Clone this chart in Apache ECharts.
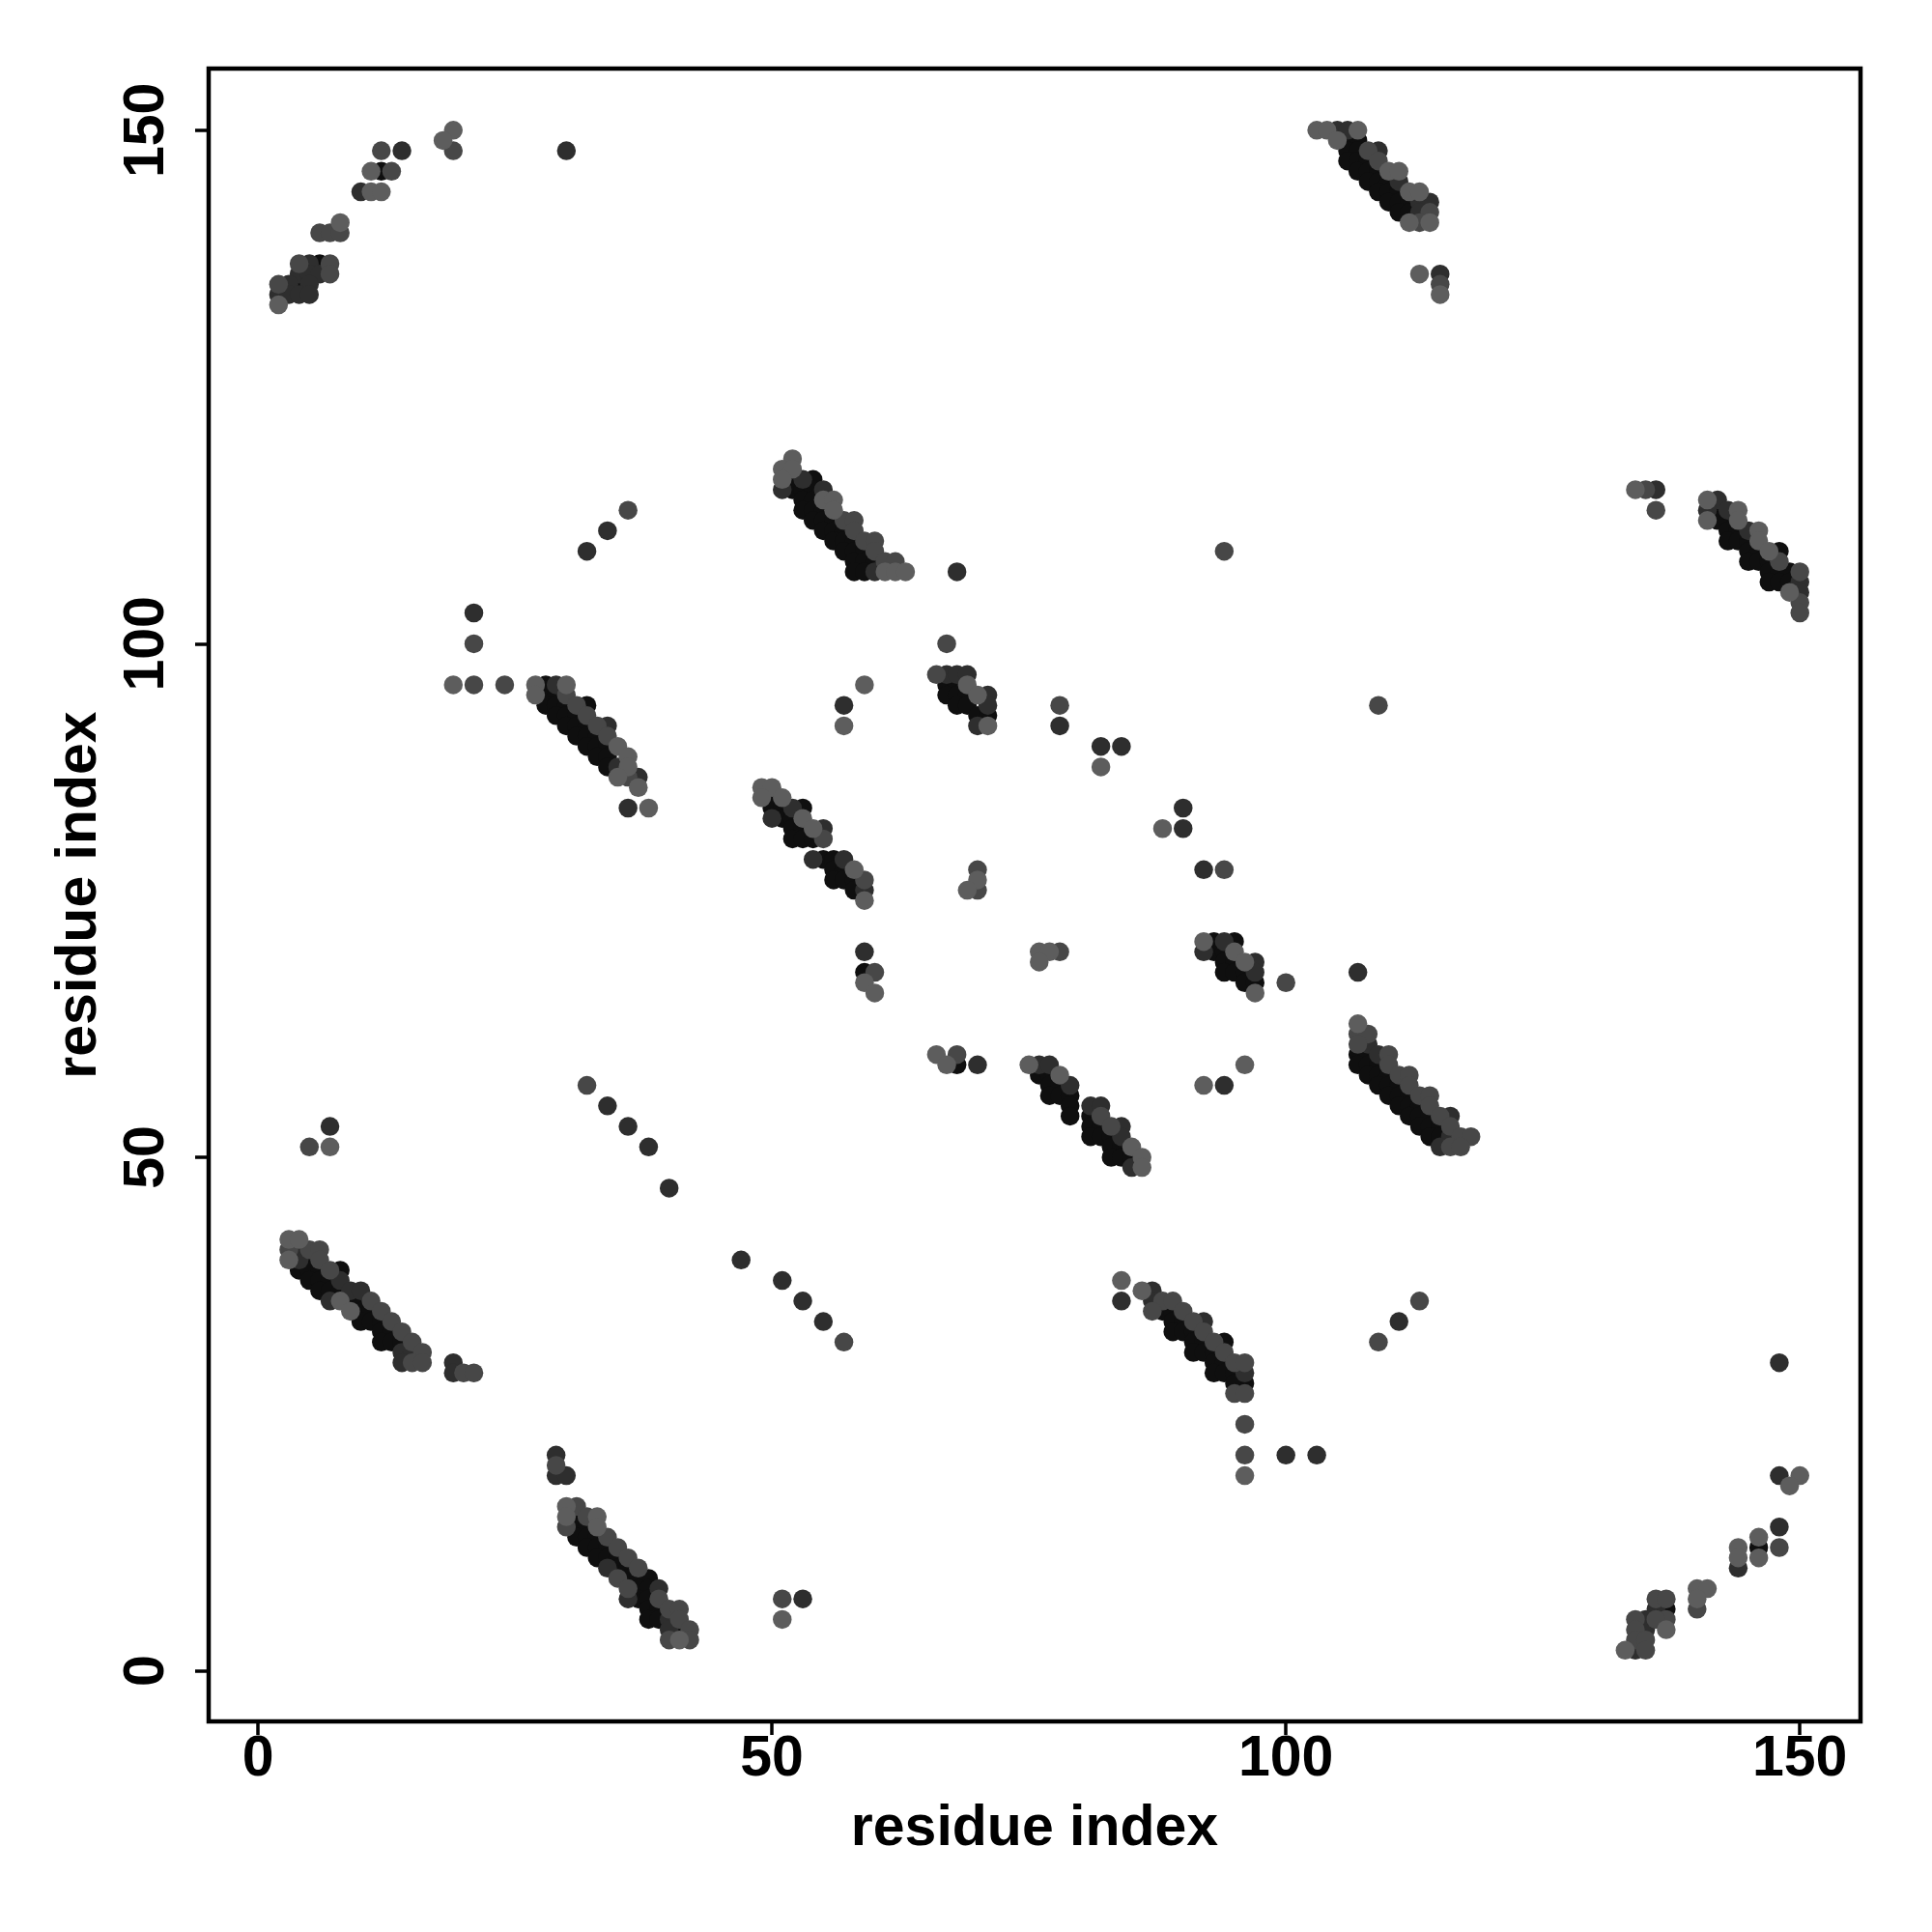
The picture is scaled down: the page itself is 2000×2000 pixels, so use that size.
<!DOCTYPE html>
<html><head><meta charset="utf-8">
<script src="https://cdn.jsdelivr.net/npm/echarts@6/dist/echarts.min.js"></script>
<style>html,body{margin:0;padding:0;background:#fff}#c{width:2000px;height:2000px}</style>
</head><body><div id="c"></div>
<script>
const tickValues = [0, 50, 100, 150];
const axisTitle = 'residue index';

// darkest points
const blackPts = [
[12,146],[6,137],[4,135],
[106,149],[107,149],[106,148],[107,148],[106,147],[107,147],[108,147],[107,146],[108,146],[109,146],[108,145],[109,145],[110,145],[109,144],[110,144],[111,144],[110,143],[111,143],[112,143],[111,142],[112,142],
[52,116],[54,116],[52,115],[53,115],[54,115],[53,114],[54,114],[53,113],[54,113],[55,113],[54,112],[55,112],[56,112],[55,111],[56,111],[57,111],[56,110],[57,110],[58,110],[57,109],[58,109],[59,109],[58,108],[59,108],[60,108],[58,107],[59,107],
[142,113],[142,112],[143,112],[143,111],[144,111],[143,110],[144,110],[145,110],[145,109],[146,109],[148,109],[145,108],[146,108],[147,108],[147,107],[148,107],[149,107],[147,106],[148,106],[149,106],
[28,96],[28,95],[29,95],[28,94],[29,94],[30,94],[32,94],[29,93],[30,93],[31,93],[30,92],[31,92],[32,92],[31,91],[32,91],[33,91],[32,90],[33,90],[34,90],[33,89],[34,89],[34,88],
[50,85],[50,84],[51,84],[53,84],[51,83],[52,83],[52,82],[53,82],[52,81],[53,81],[54,81],[55,79],[56,79],[56,78],[57,78],[56,77],[57,77],[58,77],[58,76],
[67,96],[68,96],[67,95],[68,95],[69,95],[68,94],[69,94],[70,93],[71,93],
[93,71],[95,71],[93,70],[94,70],[94,69],[95,69],[94,68],[95,68],[96,68],[96,67],[97,67],
[76,58],[77,58],[77,57],[78,57],[77,56],[78,56],[79,56],[79,55],[79,54],[81,54],[81,53],[82,53],[81,52],[82,52],[83,52],[83,51],[84,51],[83,50],[84,50],[85,50],
[107,60],[108,60],[107,59],[108,59],[109,59],[108,58],[109,58],[110,58],[109,57],[110,57],[111,57],[110,56],[111,56],[112,56],[111,55],[112,55],[113,55],[112,54],[113,54],[114,54],[113,53],[114,53],[115,53],[114,52],[115,52],
[5,40],[4,39],[5,39],[6,39],[8,39],[5,38],[6,38],[7,38],[6,37],[7,37],[8,37],[9,36],[10,36],[10,35],[11,35],[10,34],[11,34],[12,34],[12,33],[13,33],[12,32],[13,32],[14,32],
[88,35],[89,35],[89,34],[90,34],[89,33],[90,33],[91,33],[91,32],[92,32],[94,32],[91,31],[92,31],[93,31],[93,30],[94,30],[93,29],[94,29],[95,29],[95,28],[96,28],
[31,15],[31,14],[32,14],[31,13],[32,13],[33,13],[32,12],[33,12],[34,12],[33,11],[34,11],[35,11],[35,10],[36,10],[36,9],[37,9],[38,9],[37,8],[38,8],[37,7],[38,7],[38,6],[39,6],[38,5],[39,5],[41,4],
[68,59],[59,68],[137,6],[146,12]
];

const darkPts = [
[14,148],[30,148],[10,144],[5,137],[4,136],[5,136],[6,136],[3,135],[5,135],[2,134],[3,134],[4,134],[5,134],
[105,150],[106,150],[109,148],[111,145],[113,143],[114,143],[113,142],[115,136],
[53,116],[51,115],[55,115],[60,107],[68,107],
[136,115],[142,114],[141,113],[143,113],[145,111],[150,106],[150,105],
[21,103],[29,96],[34,92],[35,88],[37,87],[36,84],
[52,84],[50,83],[55,82],[54,79],[57,79],[59,76],
[67,97],[68,97],[69,97],[71,95],[71,94],[70,92],
[94,71],[92,70],[97,69],[97,68],
[76,59],[77,59],[79,57],[81,55],[82,55],[84,53],[84,52],[85,49],
[108,61],[109,60],[116,54],[116,52],[115,51],
[4,41],[4,40],[8,38],[9,37],[10,37],[7,36],[14,31],[15,31],[14,30],[19,30],[19,29],
[87,37],[84,36],[87,36],[92,34],[96,29],
[29,21],[29,19],[30,19],[34,10],[39,8],[36,7],[40,5],[40,4],
[148,19],[148,14],[144,10],[136,6],[135,5],[135,4],[134,2],[148,30],
[57,94],[59,70],[32,109],[34,111],[78,92],[82,90],[84,90],[90,84],[90,82],[92,78],[107,68],[70,59],[34,55],[36,53],[38,51],[40,47],[7,53],[47,40],[51,38],[53,36],[55,34],[100,21],[103,21],[111,34],[53,7],[94,57]
];

const midPts = [
[12,148],[19,148],[13,146],[6,140],[7,140],[8,140],[4,137],[7,137],[7,136],[2,135],
[108,148],[109,147],[114,142],[113,141],[115,135],
[57,112],[58,112],[58,111],[59,110],[60,110],[60,109],[61,108],[62,108],
[135,115],[136,113],[148,108],[150,107],[150,104],[150,103],
[21,100],[21,96],[24,96],[30,95],[31,94],[32,93],[33,92],[34,91],[36,87],
[55,81],[59,77],
[66,97],
[78,70],[82,54],[83,53],
[107,62],[108,62],[107,61],[110,60],[110,59],[111,58],[112,58],[112,57],[113,56],[114,56],[114,55],[115,54],[116,53],[117,52],[118,52],[116,51],[117,51],
[3,41],[5,41],[6,41],[6,40],[7,39],[11,36],[12,35],[13,34],[14,33],[15,32],[16,31],[15,30],[16,30],[20,29],[21,29],
[88,36],[89,36],[87,35],[90,35],[91,34],[92,33],[93,32],[94,31],[95,30],[96,30],[95,27],[96,27],[96,24],[96,21],
[29,20],[31,16],[32,15],[30,14],[34,13],[35,12],[36,11],[37,10],[35,9],[36,8],[39,7],[40,6],[41,6],[41,5],[42,4],[40,3],[42,3],
[148,12],[140,6],[136,7],[137,7],[137,5],[136,5],[134,5],[134,4],[134,3],[135,3],[135,2],
[67,100],[70,78],[70,76],[60,68],[94,109],[36,113],[109,94],[78,94],[94,78],[100,67],[68,60],[32,57],[5,51],[57,32],[109,32],[113,36],[51,7]
];

const lightPts = [
[19,150],[18,149],[11,146],[11,144],[12,144],[8,141],[2,133],
[103,150],[104,150],[107,150],[105,149],[110,146],[111,146],[112,144],[113,144],[112,141],[114,141],[113,136],[115,134],
[52,118],[51,117],[52,117],[51,116],[55,114],[56,114],[56,113],[61,107],[62,107],[63,107],
[134,115],[141,114],[144,113],[141,112],[144,112],[146,111],[146,110],[147,109],[149,105],
[19,96],[27,96],[30,96],[27,95],[35,90],[36,89],[36,88],[35,87],[37,86],[38,84],
[49,86],[50,86],[49,85],[51,85],[53,83],[54,82],[58,78],[59,75],
[69,96],[70,95],[71,92],
[92,71],[95,70],[96,69],[97,66],
[75,59],[78,58],[85,51],[86,50],[86,49],[76,70],[77,70],[76,69],
[107,63],
[3,42],[4,42],[3,40],[8,36],[9,35],
[84,38],[86,37],[96,19],
[30,16],[30,15],[33,15],[33,14],[41,3],
[150,19],[149,18],[146,13],[146,11],[144,12],[144,11],[140,8],[141,8],[140,7],[137,4],[133,2],
[59,96],[57,92],[70,77],[69,76],[59,67],[60,66],[96,59],[92,57],[82,88],[88,82],[66,60],[67,59],[7,51],[51,5]
];

const groups = [
  {name: 'black', data: blackPts, color: '#0f0f0f'},
  {name: 'dark', data: darkPts, color: '#2e2e2e'},
  {name: 'mid', data: midPts, color: '#474747'},
  {name: 'light', data: lightPts, color: '#5d5d5d'}
];

const font = '"Liberation Sans", Arial, Helvetica, sans-serif';
const labelStyle = {fontFamily: font, fontWeight: 'bold', fontSize: 59, color: '#000'};

const chart = echarts.init(document.getElementById('c'), null, {renderer: 'canvas'});
chart.setOption({
  animation: false,
  backgroundColor: '#ffffff',
  grid: {left: 216, right: 74, top: 71, bottom: 218, show: true, borderColor: '#000', borderWidth: 4.5, backgroundColor: 'transparent'},
  xAxis: {
    type: 'value', min: -4.8, max: 155.9,
    name: axisTitle, nameLocation: 'middle', nameGap: 82,
    nameTextStyle: labelStyle,
    axisLine: {show: false, onZero: false}, splitLine: {show: false},
    axisTick: {show: true, customValues: tickValues, length: 14, lineStyle: {color: '#000', width: 3.5}},
    axisLabel: Object.assign({customValues: tickValues, margin: 10}, labelStyle)
  },
  yAxis: {
    type: 'value', min: -4.93, max: 156.0,
    name: axisTitle, nameLocation: 'middle', nameGap: 104, nameRotate: 90,
    nameTextStyle: labelStyle,
    axisLine: {show: false, onZero: false}, splitLine: {show: false},
    axisTick: {show: true, customValues: tickValues, length: 14, lineStyle: {color: '#000', width: 3.5}},
    axisLabel: Object.assign({customValues: tickValues, margin: 34, rotate: 90}, labelStyle)
  },
  series: groups.map(g => ({
    type: 'scatter', name: g.name, data: g.data, symbol: 'circle', symbolSize: 19.5,
    itemStyle: {color: g.color, opacity: 1}, emphasis: {disabled: true}
  }))
});
</script>
</body></html>
